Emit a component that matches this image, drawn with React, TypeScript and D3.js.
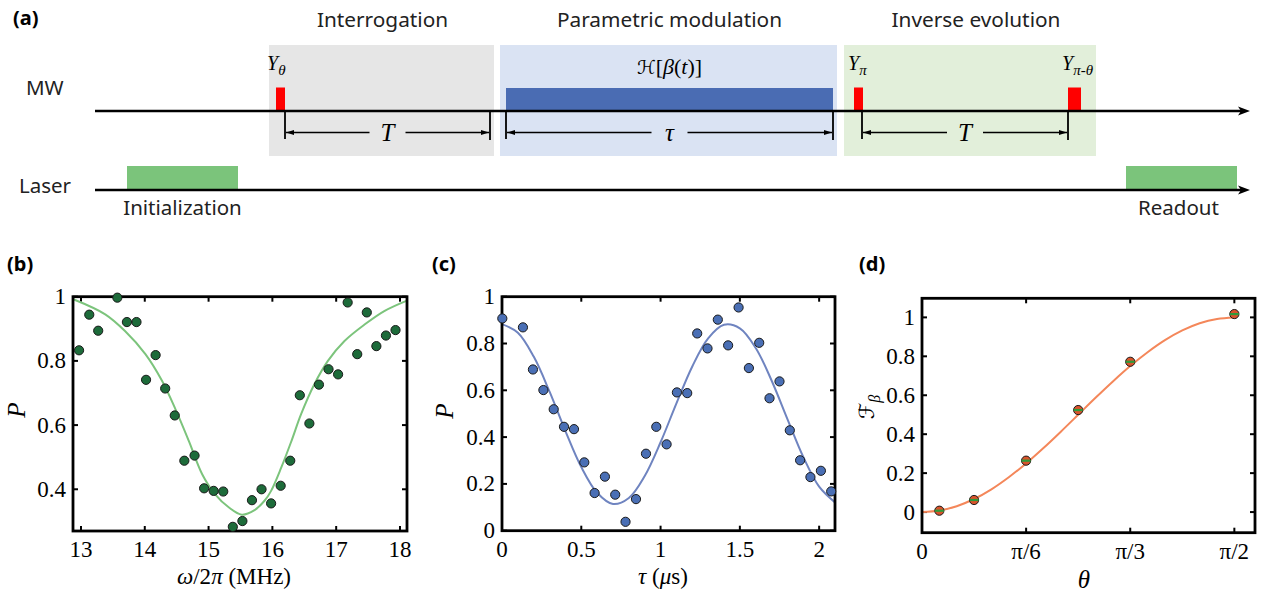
import * as d3 from 'd3';

const W = 1261;
const H = 598;

// ---- panel (a): pulse sequence, time in arbitrary units ----
const stageNames = ['Interrogation', 'Parametric modulation', 'Inverse evolution'];
const stageStart = [17.4, 40.5, 74.9];
const stageEnd = [39.9, 74.2, 100.1];
const pulseSubs = ['θ', 'π', 'π-θ'];
const pulseStart = [18.1, 75.9, 97.3];
const pulseEnd = [19.0, 76.8, 98.6];
const modStart = 41.1;
const modEnd = 73.8;
const intervalNames = ['T', 'τ', 'T'];
const intervalStart = [19.0, 41.1, 76.7];
const intervalEnd = [39.5, 73.8, 97.3];
const laserNames = ['Initialization', 'Readout'];
const laserStart = [3.2, 103.1];
const laserEnd = [14.3, 114.2];

// ---- panel (b): frequency scan ----
const omega = [12.97, 13.13, 13.27, 13.57, 13.72, 13.87, 14.02, 14.17, 14.32, 14.47, 14.62, 14.78, 14.93, 15.08, 15.23, 15.38, 15.53, 15.68, 15.83, 15.98, 16.13, 16.28, 16.43, 16.58, 16.73, 16.88, 17.03, 17.18, 17.33, 17.48, 17.63, 17.78, 17.93];
const pB = [0.833, 0.944, 0.894, 0.997, 0.921, 0.921, 0.741, 0.818, 0.714, 0.630, 0.489, 0.505, 0.403, 0.395, 0.393, 0.283, 0.301, 0.366, 0.400, 0.356, 0.411, 0.489, 0.693, 0.605, 0.726, 0.774, 0.758, 0.982, 0.821, 0.951, 0.846, 0.879, 0.896];
const fitOmega = [12.88, 13.38, 13.69, 14.01, 14.27, 14.48, 14.69, 14.90, 15.10, 15.32, 15.52, 15.72, 15.88, 15.98, 16.14, 16.30, 16.45, 16.66, 16.87, 17.13, 17.45, 17.76, 18.11];
const fitPB = [0.992, 0.945, 0.893, 0.821, 0.738, 0.650, 0.551, 0.447, 0.385, 0.343, 0.321, 0.335, 0.365, 0.395, 0.468, 0.551, 0.634, 0.728, 0.800, 0.862, 0.914, 0.956, 0.988];
const omegaTicks = [13, 14, 15, 16, 17, 18];
const pBTicks = [0.4, 0.6, 0.8, 1];

// ---- panel (c): modulation duration ----
const tau = [0.002, 0.132, 0.195, 0.261, 0.326, 0.391, 0.454, 0.519, 0.584, 0.649, 0.714, 0.779, 0.845, 0.908, 0.973, 1.038, 1.103, 1.168, 1.231, 1.296, 1.361, 1.426, 1.492, 1.557, 1.622, 1.687, 1.750, 1.815, 1.880, 1.945, 2.011, 2.076];
const pC = [0.907, 0.869, 0.689, 0.601, 0.519, 0.444, 0.434, 0.292, 0.161, 0.231, 0.154, 0.038, 0.135, 0.329, 0.444, 0.369, 0.591, 0.588, 0.843, 0.779, 0.902, 0.792, 0.954, 0.695, 0.803, 0.566, 0.638, 0.429, 0.301, 0.229, 0.256, 0.168];
const fitTau = [0, 0.1, 0.2, 0.3, 0.4, 0.5, 0.6, 0.7, 0.8, 0.9, 1.0, 1.1, 1.2, 1.3, 1.4, 1.5, 1.6, 1.7, 1.8, 1.9, 2.0, 2.1];
const fitPC = [0.883, 0.846, 0.744, 0.594, 0.426, 0.272, 0.162, 0.114, 0.140, 0.234, 0.378, 0.544, 0.702, 0.822, 0.880, 0.865, 0.781, 0.642, 0.477, 0.315, 0.188, 0.121];
const tauTicks = [0, 0.5, 1, 1.5, 2];
const pCTicks = [0, 0.2, 0.4, 0.6, 0.8, 1];

// ---- panel (d): Fisher information vs theta (degrees) ----
const thetaDeg = [5, 15, 30, 45, 60, 90];
const fBeta = [0.007, 0.062, 0.264, 0.524, 0.772, 1.017];
const fitTheta = [0, 5, 10, 15, 20, 25, 30, 35, 40, 45, 50, 55, 60, 65, 70, 75, 80, 85, 90];
const fitF = [0, 0.008, 0.030, 0.067, 0.117, 0.179, 0.25, 0.329, 0.413, 0.5, 0.587, 0.671, 0.75, 0.821, 0.883, 0.933, 0.970, 0.992, 1.0];
const thetaTicks = [0, 30, 60, 90];
const thetaTickLabels = ['0', 'π/6', 'π/3', 'π/2'];
const fTicks = [0, 0.2, 0.4, 0.6, 0.8, 1];

const SANS = "'Noto Sans', 'DejaVu Sans', sans-serif";
const SERIF = "'Liberation Serif', 'DejaVu Serif', serif";

type PanelProps = {
  x: d3.ScaleLinear<number, number>;
  y: d3.ScaleLinear<number, number>;
  xTicks: number[];
  xTickLabels?: string[];
  yTicks: number[];
  fitX: number[];
  fitY: number[];
  ptsX: number[];
  ptsY: number[];
  lineColor: string;
  dotFill: string;
  dotKind?: 'plain' | 'bar';
};

function Panel({ x, y, xTicks, xTickLabels, yTicks, fitX, fitY, ptsX, ptsY, lineColor, dotFill, dotKind = 'plain' }: PanelProps) {
  const [x0, x1] = x.range();
  const [y0, y1] = y.range(); // y0 bottom, y1 top
  const line = d3.line<number>()
    .x((_, i) => x(fitX[i]))
    .y(d => y(d))
    .curve(d3.curveCatmullRom.alpha(0.5));
  const tl = 5;
  return (
    <g>
      {xTicks.map((t, i) => (
        <g key={'xt' + i}>
          <line x1={x(t)} x2={x(t)} y1={y0} y2={y0 - tl} stroke="#000" strokeWidth={2} />
          <line x1={x(t)} x2={x(t)} y1={y1} y2={y1 + tl} stroke="#000" strokeWidth={2} />
          <text x={x(t)} y={y0 + 26} textAnchor="middle" fontFamily={SERIF} fontSize={23}>
            {xTickLabels ? xTickLabels[i] : String(t)}
          </text>
        </g>
      ))}
      {yTicks.map((t, i) => (
        <g key={'yt' + i}>
          <line x1={x0} x2={x0 + tl} y1={y(t)} y2={y(t)} stroke="#000" strokeWidth={2} />
          <line x1={x1} x2={x1 - tl} y1={y(t)} y2={y(t)} stroke="#000" strokeWidth={2} />
          <text x={x0 - 7} y={y(t)} dy="0.33em" textAnchor="end" fontFamily={SERIF} fontSize={23}>
            {String(t)}
          </text>
        </g>
      ))}
      <path d={line(fitY) || ''} fill="none" stroke={lineColor} strokeWidth={2} />
      <rect x={x0} y={y1} width={x1 - x0} height={y0 - y1} fill="none" stroke="#000" strokeWidth={2.8} />
      {ptsX.map((v, i) => (
        <g key={'p' + i}>
          <circle cx={x(v)} cy={y(ptsY[i])} r={4.6} fill={dotFill} stroke="#1a1a1a" strokeWidth={1} />
          {dotKind === 'bar' && (
            <line x1={x(v) - 4.5} x2={x(v) + 4.5} y1={y(ptsY[i])} y2={y(ptsY[i])} stroke="#2f9a3a" strokeWidth={2.2} />
          )}
        </g>
      ))}
    </g>
  );
}

function Timeline() {
  const tx = d3.scaleLinear().domain([0, 115.3]).range([95, 1248]);
  const mwY = 111;
  const laserY = 190;
  const boxTop = 45;
  const boxBottom = 156;
  const stageFill = ['#e6e6e6', '#dae3f3', '#e2efda'];
  const dimY = 132.5;
  const gap = 18;
  return (
    <g>
      <defs>
        <marker id="dimArrow" viewBox="0 0 8 6" refX={8} refY={3} markerWidth={8} markerHeight={6}
          markerUnits="userSpaceOnUse" orient="auto-start-reverse">
          <path d="M0,0.6 L8,3 L0,5.4 Z" fill="#000" />
        </marker>
      </defs>
      <text x={13} y={25} fontFamily={SANS} fontWeight="bold" fontSize={20}>(a)</text>
      {stageNames.map((s, i) => (
        <g key={s}>
          <rect x={tx(stageStart[i])} y={boxTop} width={tx(stageEnd[i]) - tx(stageStart[i])}
            height={boxBottom - boxTop} fill={stageFill[i]} />
          <text x={(tx(stageStart[i]) + tx(stageEnd[i])) / 2 + (i === 2 ? 6 : 1)} y={27}
            textAnchor="middle" fontFamily={SANS} fontSize={20.8} fill="#222">{s}</text>
        </g>
      ))}
      {/* modulation block */}
      <rect x={tx(modStart)} y={88} width={tx(modEnd) - tx(modStart)} height={mwY - 88} fill="#4a6cb3" />
      <text x={(tx(modStart) + tx(modEnd)) / 2} y={74} textAnchor="middle" fontFamily={SERIF} fontSize={22}>
        <tspan fontFamily="'DejaVu Sans', sans-serif" fontSize={19}>ℋ</tspan>
        <tspan>[</tspan><tspan fontStyle="italic">β</tspan><tspan>(</tspan><tspan fontStyle="italic">t</tspan><tspan>)]</tspan>
      </text>
      {/* MW pulses */}
      {pulseSubs.map((s, i) => (
        <g key={'pulse' + i}>
          <rect x={tx(pulseStart[i])} y={87.5} width={tx(pulseEnd[i]) - tx(pulseStart[i])} height={mwY - 87.5} fill="#ff0000" />
          <text x={tx(pulseStart[i]) - (i === 0 ? 9 : 6)} y={70} fontFamily={SERIF} fontStyle="italic" fontSize={20}>
            Y<tspan fontSize={15} dy={5}>{s}</tspan>
          </text>
        </g>
      ))}
      {/* interval arrows */}
      {intervalNames.map((n, i) => {
        const a = tx(intervalStart[i]);
        const b = tx(intervalEnd[i]);
        const m = (a + b) / 2;
        return (
          <g key={'int' + i}>
            <line x1={a} x2={a} y1={mwY} y2={139} stroke="#000" strokeWidth={1.8} />
            <line x1={b} x2={b} y1={mwY} y2={140} stroke="#000" strokeWidth={1.8} />
            <line x1={m - gap} x2={a + 1} y1={dimY} y2={dimY} stroke="#000" strokeWidth={1.3} markerEnd="url(#dimArrow)" />
            <line x1={m + gap} x2={b - 1} y1={dimY} y2={dimY} stroke="#000" strokeWidth={1.3} markerEnd="url(#dimArrow)" />
            <text x={m} y={dimY + 8} textAnchor="middle" fontFamily={SERIF} fontStyle="italic" fontSize={25}>{n}</text>
          </g>
        );
      })}
      {/* laser pulses */}
      {laserNames.map((n, i) => (
        <g key={n}>
          <rect x={tx(laserStart[i])} y={166} width={tx(laserEnd[i]) - tx(laserStart[i])} height={laserY - 166} fill="#7bc47b" />
          <text x={(tx(laserStart[i]) + tx(laserEnd[i])) / 2 + (i === 1 ? -3 : 0)} y={215}
            textAnchor="middle" fontFamily={SANS} fontSize={20.5} fill="#222">{n}</text>
        </g>
      ))}
      {/* axes lines */}
      {[mwY, laserY].map(yy => (
        <g key={'ax' + yy}>
          <line x1={95} x2={1242} y1={yy} y2={yy} stroke="#000" strokeWidth={2.5} />
          <path d={`M1238,${yy - 4.5} L1250,${yy} L1238,${yy + 4.5} L1241,${yy} Z`} fill="#000" />
        </g>
      ))}
      <text x={26} y={95} fontFamily={SANS} fontSize={20.5} fill="#222">MW</text>
      <text x={19} y={193} fontFamily={SANS} fontSize={20.5} fill="#222">Laser</text>
    </g>
  );
}

export default function App() {
  const xB = d3.scaleLinear().domain([12.875, 18.11]).range([73, 407]);
  const yB = d3.scaleLinear().domain([0.27, 1.0]).range([531, 296.7]);
  const xC = d3.scaleLinear().domain([0, 2.1]).range([502, 835]);
  const yC = d3.scaleLinear().domain([0, 1]).range([530.7, 296.7]);
  const xD = d3.scaleLinear().domain([0, 95.95]).range([922, 1255]);
  const yD = d3.scaleLinear().domain([-0.106, 1.098]).range([532.7, 298.3]);

  return (
    <svg width={W} height={H} viewBox={`0 0 ${W} ${H}`}
      style={{ position: 'absolute', left: 0, top: 0, background: '#fff' }}>
      <Timeline />

      {/* (b) */}
      <text x={7} y={271} fontFamily={SANS} fontWeight="bold" fontSize={20}>(b)</text>
      <Panel x={xB} y={yB} xTicks={omegaTicks} yTicks={pBTicks} fitX={fitOmega} fitY={fitPB}
        ptsX={omega} ptsY={pB} lineColor="#7cc47c" dotFill="#1d6b3a" />
      <text transform="translate(25,410) rotate(-90)" textAnchor="middle" fontFamily={SERIF} fontStyle="italic" fontSize={25}>P</text>
      <text x={234} y={584} textAnchor="middle" fontFamily={SERIF} fontSize={23}>
        <tspan fontStyle="italic">ω</tspan>/2<tspan fontStyle="italic">π</tspan> (MHz)
      </text>

      {/* (c) */}
      <text x={432} y={271} fontFamily={SANS} fontWeight="bold" fontSize={20}>(c)</text>
      <Panel x={xC} y={yC} xTicks={tauTicks} yTicks={pCTicks} fitX={fitTau} fitY={fitPC}
        ptsX={tau} ptsY={pC} lineColor="#6f84c0" dotFill="#4a6fb5" />
      <text transform="translate(453,411) rotate(-90)" textAnchor="middle" fontFamily={SERIF} fontStyle="italic" fontSize={25}>P</text>
      <text x={663} y={584} textAnchor="middle" fontFamily={SERIF} fontSize={23}>
        <tspan fontStyle="italic">τ</tspan> (<tspan fontStyle="italic">μ</tspan>s)
      </text>

      {/* (d) */}
      <text x={859} y={271} fontFamily={SANS} fontWeight="bold" fontSize={20}>(d)</text>
      <Panel x={xD} y={yD} xTicks={thetaTicks} xTickLabels={thetaTickLabels} yTicks={fTicks}
        fitX={fitTheta} fitY={fitF} ptsX={thetaDeg} ptsY={fBeta} lineColor="#f4875a" dotFill="#d8532b" dotKind="bar" />
      <text transform="translate(874,407) rotate(-90)" textAnchor="middle" fontFamily={SERIF} fontSize={23}>
        <tspan fontFamily="'DejaVu Sans', sans-serif" fontSize={21}>ℱ</tspan><tspan fontStyle="italic" fontSize={16} dy={6}>β</tspan>
      </text>
      <text x={1084} y={588} textAnchor="middle" fontFamily={SERIF} fontStyle="italic" fontSize={25}>θ</text>
    </svg>
  );
}
